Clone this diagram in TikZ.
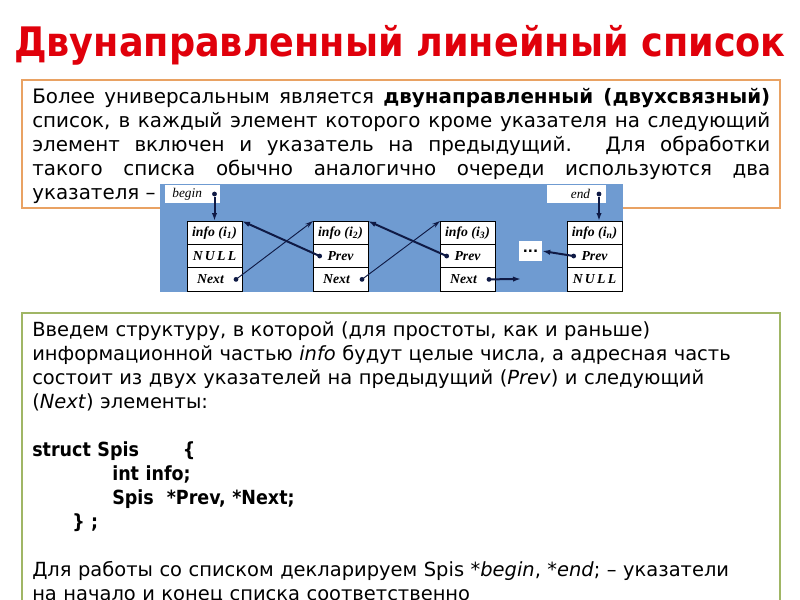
\documentclass[tikz,border=0pt]{standalone}
\usepackage{fontspec}
\setmainfont{DejaVu Sans}
\newfontfamily\condfont{DejaVu Sans Condensed}
\newfontfamily\cellfont{Liberation Serif}
\usetikzlibrary{arrows.meta,positioning}
\definecolor{titlered}{HTML}{E0000B}
\definecolor{boxorange}{HTML}{E9A263}
\definecolor{boxgreen}{HTML}{A0B665}
\definecolor{listblue}{HTML}{6F9BD1}
\definecolor{ptrnavy}{HTML}{0F1A45}

\begin{document}
\begin{tikzpicture}[x=0.75pt,y=-0.75pt,
  cell/.style={draw=black,line width=0.6pt,fill=white,outer sep=0pt,inner sep=0pt,
    minimum width=41.25pt,minimum height=17.5pt,font=\cellfont\bfseries\itshape\fontsize{10.3}{12}\selectfont},
  tag/.style={fill=white,outer sep=0pt,inner sep=0pt,minimum height=13.5pt,
    font=\cellfont\itshape\fontsize{10}{12}\selectfont},
  dot/.style={circle,fill=ptrnavy,inner sep=0pt,minimum size=3.6pt},
  thickarr/.style={-{Latex[length=6pt,width=4pt]},line width=1.5pt,draw=ptrnavy},
  thinarr/.style={-{Stealth[length=6pt,width=3.5pt]},line width=0.7pt,draw=ptrnavy}
]
\clip (0,0) rectangle (800,600);
\fill[white] (0,0) rectangle (800,600);

% title
\node[anchor=base,inner sep=0pt,font=\condfont\bfseries\fontsize{30.5}{36}\selectfont,text=titlered]
  (title) at (400,56) {Двунаправленный линейный список};

% upper text box
\draw[boxorange,line width=1.5pt] (22,80) rectangle (780,208);
\node[anchor=north west,text width=553.5pt,align=justify,inner sep=0pt,
  font=\fontsize{14.9}{18}\selectfont] (intro) at (32,88)
  {\tolerance=9999\hbadness=10000
   Более универсальным является \textbf{двунаправленный (двухсвязный)}\linebreak
   список, в каждый элемент которого кроме указателя на следующий\linebreak
   элемент включен и указатель на предыдущий. Для обработки\linebreak
   такого списка обычно аналогично очереди используются два\linebreak
   указателя~--};

% list picture
\fill[listblue] (160,184) rectangle (623,292);
\node[tag,minimum width=41.25pt,anchor=north west] (begintag) at (165,185) {\hspace*{-8pt}begin};
\node[tag,minimum width=44.25pt,anchor=north west] (endtag) at (547,185) {\hspace*{6pt}end};

\node[cell] (e1i) at (214.5,232.7) {info (i\textsubscript{1})};
\node[cell,below=0pt of e1i] (e1p) {N\,U\,L\,L};
\node[cell,below=0pt of e1p] (e1n) {\hspace*{-6pt}Next};
\node[cell] (e2i) at (340.5,232.7) {info (i\textsubscript{2})};
\node[cell,below=0pt of e2i] (e2p) {Prev};
\node[cell,below=0pt of e2p] (e2n) {\hspace*{-6pt}Next};
\node[cell] (e3i) at (467.5,232.7) {info (i\textsubscript{3})};
\node[cell,below=0pt of e3i] (e3p) {Prev};
\node[cell,below=0pt of e3p] (e3n) {\hspace*{-6pt}Next};
\node[cell] (eni) at (594.5,232.7) {info (i\textsubscript{n})};
\node[cell,below=0pt of eni] (enp) {Prev};
\node[cell,below=0pt of enp] (enn) {N\,U\,L\,L};
\node[fill=white,minimum width=17.25pt,minimum height=15pt,inner sep=0pt,
  font=\bfseries] (dots) at (530.5,251) {...};

% pointer origins
\node[dot] (pbegin) at (214.5,194) {};
\node[dot] (pend) at (599,194) {};
\node[dot] (p1n) at ([xshift=-4.5pt]e1n.east) {};
\node[dot] (p2p) at ([xshift=5pt]e2p.west) {};
\node[dot] (p2n) at ([xshift=-4.5pt]e2n.east) {};
\node[dot] (p3p) at ([xshift=5pt]e3p.west) {};
\node[dot] (p3n) at ([xshift=-4.5pt]e3n.east) {};
\node[dot] (pnp) at ([xshift=5pt]enp.west) {};
\coordinate (gap) at (521,279);

\draw[thickarr] (pbegin) -- (e1i.north);
\draw[thickarr] (pend) -- (pend |- eni.north);
\draw[thinarr] (p1n.center) -- (e2i.north west);
\draw[thinarr] (p2n.center) -- (e3i.north west);
\draw[thickarr] (p2p.center) -- (e1i.north east);
\draw[thickarr] (p3p.center) -- (e2i.north east);
\draw[thickarr] (p3n.center) -- (gap);
\draw[thickarr] (pnp.center) -- (dots.east);

% lower text box
\draw[boxgreen,line width=1.5pt] (22,313) rectangle (780,620);
\node[anchor=north west,text width=553.5pt,align=left,inner sep=0pt,
  font=\fontsize{14.6}{18}\selectfont] (struct) at (32,321)
  {Введем структуру, в которой (для простоты, как и раньше)\\
   информационной частью \textit{info} будут целые числа, а адресная часть\\
   состоит из двух указателей на предыдущий (\textit{Prev}) и следующий\\
   (\textit{Next}) элементы:\\[18pt]
   {\condfont\bfseries\makebox[113pt][l]{struct Spis}\{}\\
   \hspace*{60pt}{\condfont\bfseries int info;}\\
   \hspace*{60pt}{\condfont\bfseries Spis\ \ *Prev, *Next;}\\
   \hspace*{30pt}{\condfont\bfseries \} ;}\\[18pt]
   Для работы со списком декларируем Spis *\textit{begin}, *\textit{end}; -- указатели\\
   на начало и конец списка соответственно};
\end{tikzpicture}
\end{document}
